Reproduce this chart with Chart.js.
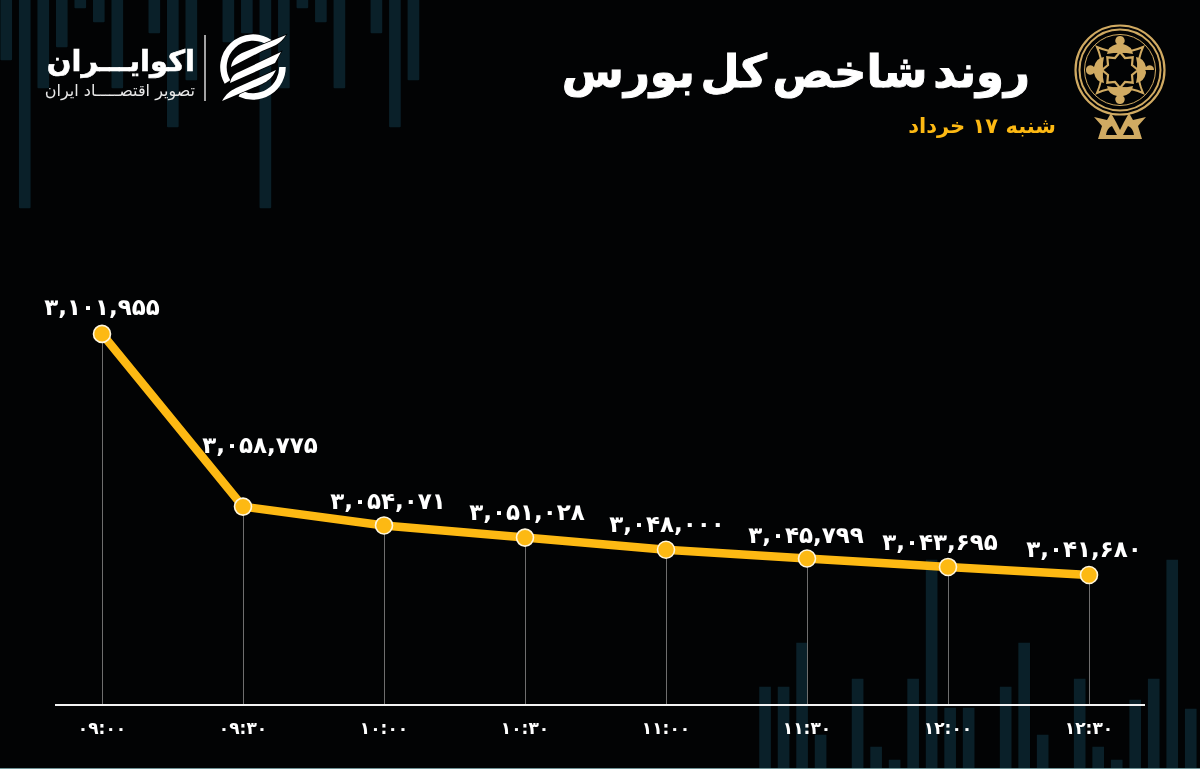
<!DOCTYPE html>
<html lang="fa">
<head>
<meta charset="utf-8">
<title>روند شاخص کل بورس</title>
<script src="https://cdn.jsdelivr.net/npm/chart.js@4"></script>
<style>
  html, body { margin: 0; background: #020304; }
  #page { position: relative; width: 1200px; height: 769px; overflow: hidden; background: #020304; }
  #page canvas { position: absolute; top: 0; }
  #backdrop { left: -3px; }
  #chart { left: 0; }
  .txt { position: absolute; font-family: "DejaVu Sans", sans-serif; white-space: nowrap; direction: rtl; text-align: right; }
  #title { right: 170px; top: 45px; font-size: 45px; font-weight: bold; word-spacing: -10px; color: #fff; -webkit-text-stroke: 1px #fff; }
  #subtitle { right: 144px; top: 114px; font-size: 21px; font-weight: bold; color: #fdb913; }
  #brand { right: 1005px; top: 44px; font-size: 29px; font-weight: bold; color: #fff; -webkit-text-stroke: 0.6px #fff; }
  #tagline { right: 1005px; top: 81px; font-size: 16px; color: #e8e8e8; }
  #logos { position: absolute; left: 0; top: 0; }
  #edge { position: absolute; left: 0; right: 0; bottom: 0; height: 1px; background: #6f9296; }
</style>
</head>
<body>
<div id="page">
  <canvas id="backdrop"></canvas>
  <canvas id="chart"></canvas>

  <svg id="logos" width="1200" height="769" viewBox="0 0 1200 769">
    <line x1="205" y1="35" x2="205" y2="101" stroke="#d8d8d8" stroke-width="1.5"/>
    <!-- site mark -->
    <g fill="none" stroke="#fff" stroke-width="6.5">
      <path d="M227.5 82 A29.5 29.5 0 0 1 270 43"/>
      <path d="M282.5 67 A29.5 29.5 0 0 1 240 93.5"/>
    </g>
    <g fill="#fff" stroke="#020304" stroke-width="1.5" paint-order="stroke">
      <path d="M286 35 C281 44 272 47 262 51 L231 67 C232 60 236 56 242 53 Z"/>
      <path d="M281 52 L275 63 L230 83 C231 77 234 74 239 72 Z"/>
      <path d="M276 70 C272 78 268 81 262 84 L222 101 C226 94 230 91 236 88 Z"/>
    </g>
    <!-- exchange emblem -->
    <g fill="none" stroke="#d0aa62">
      <circle cx="1120" cy="70" r="44.5" stroke-width="2.2"/>
      <circle cx="1120" cy="70" r="40.5" stroke-width="2"/>
      <circle cx="1120" cy="70" r="35.5" stroke-width="1"/>
      <path d="M1097 47 Q1120 57 1143 47 Q1133 70 1143 93 Q1120 83 1097 93 Q1107 70 1097 47 Z" stroke-width="2"/>
      <path d="M1120 52 L1125 58 L1132.7 57.3 L1132 65 L1138 70 L1132 75 L1132.7 82.7 L1125 82 L1120 88 L1115 82 L1107.3 82.7 L1108 75 L1102 70 L1108 65 L1107.3 57.3 L1115 58 Z" stroke-width="2.2"/>
    </g>
    <g fill="#d0aa62">
      <path d="M1120 36 a4.5 4.5 0 0 1 3 8 q9 2 10 10 q-13 -3 -26 0 q1 -8 10 -10 a4.5 4.5 0 0 1 3 -8 Z"/>
      <path d="M1120 104 a4.5 4.5 0 0 0 3 -8 q9 -2 10 -10 q-13 3 -26 0 q1 8 10 10 a4.5 4.5 0 0 0 3 8 Z"/>
      <path d="M1086 70 a4.5 4.5 0 0 1 8 -3 q2 -9 10 -10 q-3 13 0 26 q-8 -1 -10 -10 a4.5 4.5 0 0 1 -8 -3 Z"/>
      <path d="M1154 70 a4.5 4.5 0 0 0 -8 -3 q-2 -9 -10 -10 q3 13 0 26 q8 -1 10 -10 a4.5 4.5 0 0 0 -8 -3 Z"/>
      <path d="M1094 117 L1107 120 L1111 113 L1116 122 L1120 130 L1124 122 L1129 113 L1133 120 L1146 117 L1138 126 L1142 139 L1098 139 L1102 126 Z"/>
    </g>
    <g fill="#020304">
      <path d="M1106 135 q1 -7 6 -9 l5 9 Z"/>
      <path d="M1134 135 q-1 -7 -6 -9 l-5 9 Z"/>
    </g>
  </svg>

  <div class="txt" id="title">روند شاخص کل بورس</div>
  <div class="txt" id="subtitle">شنبه ۱۷ خرداد</div>
  <div class="txt" id="brand">اکوایـــران</div>
  <div class="txt" id="tagline">تصویر اقتصـــــاد ایران</div>
  <div id="edge"></div>
</div>

<script>
// values
const timeLabels = ['۰۹:۰۰', '۰۹:۳۰', '۱۰:۰۰', '۱۰:۳۰', '۱۱:۰۰', '۱۱:۳۰', '۱۲:۰۰', '۱۲:۳۰'];
const indexValues = [3101955, 3058775, 3054071, 3051028, 3048000, 3045799, 3043695, 3041680];

// faint decoration behind the chart, one entry per slot, length of each bar
const hangingBars = [60, 208, 88, 47, 8, 22, 88, 0, 33, 127, 80, 0, 42, 33, 208, 88, 8, 22, 88, 0, 33, 127, 80];
const risingBars = [82, 82, 126, 34, 0, 90, 22, 9, 90, 209, 61, 61, 0, 82, 126, 34, 0, 90, 22, 9, 69, 90, 209, 60];
const risingFirstSlot = 41;
const slotCount = 65;

const GOLD = '#fdb913';
const FONT = '"DejaVu Sans", sans-serif';

function toPersian(n) {
  return n.toLocaleString('en-US').replace(/\d/g, d => '۰۱۲۳۴۵۶۷۸۹'[d]);
}

// backdrop: floating bars hung from the top edge and stood on the bottom edge
const PAGE_H = 769;
const slots = Array.from({ length: slotCount }, (_, i) => i);
const hanging = slots.map(i => hangingBars[i] ? [0, hangingBars[i]] : null);
const rising = slots.map(i => {
  const h = risingBars[i - risingFirstSlot];
  return h ? [PAGE_H - h, PAGE_H] : null;
});

const backdrop = document.getElementById('backdrop');
backdrop.width = 1203;
backdrop.height = PAGE_H;
new Chart(backdrop, {
  type: 'bar',
  data: {
    labels: slots,
    datasets: [
      { data: hanging, backgroundColor: '#0a2029', barThickness: 11, grouped: false, borderRadius: 1 },
      { data: rising, backgroundColor: '#0a2029', barThickness: 11, grouped: false, borderRadius: 1 }
    ]
  },
  options: {
    responsive: false,
    animation: false,
    plugins: { legend: { display: false }, tooltip: { enabled: false } },
    scales: {
      x: { display: false },
      y: { display: false, reverse: true, min: 0, max: PAGE_H }
    }
  }
});

// thin drop lines and the long base line
const frame = {
  id: 'frame',
  beforeDatasetsDraw(chart) {
    const { ctx, scales: { x, y } } = chart;
    ctx.save();
    ctx.strokeStyle = '#6e6e6e';
    ctx.lineWidth = 1;
    chart.getDatasetMeta(0).data.forEach(pt => {
      ctx.beginPath();
      ctx.moveTo(Math.round(pt.x) + 0.5, pt.y);
      ctx.lineTo(Math.round(pt.x) + 0.5, y.bottom);
      ctx.stroke();
    });
    ctx.strokeStyle = '#f4f4f4';
    ctx.lineWidth = 2;
    ctx.beginPath();
    ctx.moveTo(x.left - 47, y.bottom);
    ctx.lineTo(x.right + 56, y.bottom);
    ctx.stroke();
    ctx.restore();
  }
};

// value above each point; the steep second point and the last ones are nudged clear of the line
const labelNudge = [[0, -25], [17, -60], [4, -22], [2, -24], [1, -24], [-1, -21], [-8, -23], [-5, -24]];
const valueLabels = {
  id: 'valueLabels',
  afterDatasetsDraw(chart) {
    const { ctx } = chart;
    ctx.save();
    ctx.font = 'bold 23px ' + FONT;
    ctx.fillStyle = '#fff';
    ctx.textAlign = 'center';
    ctx.textBaseline = 'middle';
    chart.getDatasetMeta(0).data.forEach((pt, i) => {
      ctx.fillText(toPersian(indexValues[i]), pt.x + labelNudge[i][0], pt.y + labelNudge[i][1]);
    });
    ctx.restore();
  }
};

const canvas = document.getElementById('chart');
canvas.width = 1200;
canvas.height = PAGE_H;
new Chart(canvas, {
  type: 'line',
  data: {
    labels: timeLabels,
    datasets: [{
      data: indexValues,
      borderColor: GOLD,
      borderWidth: 8.5,
      borderJoinStyle: 'round',
      tension: 0,
      clip: false,
      pointRadius: 8.5,
      pointBackgroundColor: GOLD,
      pointBorderColor: '#fff6dc',
      pointBorderWidth: 1.6
    }]
  },
  options: {
    responsive: false,
    animation: false,
    layout: { padding: { left: 102, right: 111, top: 250, bottom: 0 } },
    plugins: { legend: { display: false }, tooltip: { enabled: false } },
    scales: {
      x: {
        offset: false,
        grid: { display: false },
        border: { display: false },
        afterFit(scale) { scale.height = 64; },
        ticks: {
          color: '#fff',
          padding: 6,
          maxRotation: 0,
          autoSkip: false,
          font: { family: FONT, size: 17, weight: 'bold' }
        }
      },
      y: { display: false, min: 3009180, max: 3122930 }
    }
  },
  plugins: [frame, valueLabels]
});
</script>
</body>
</html>
